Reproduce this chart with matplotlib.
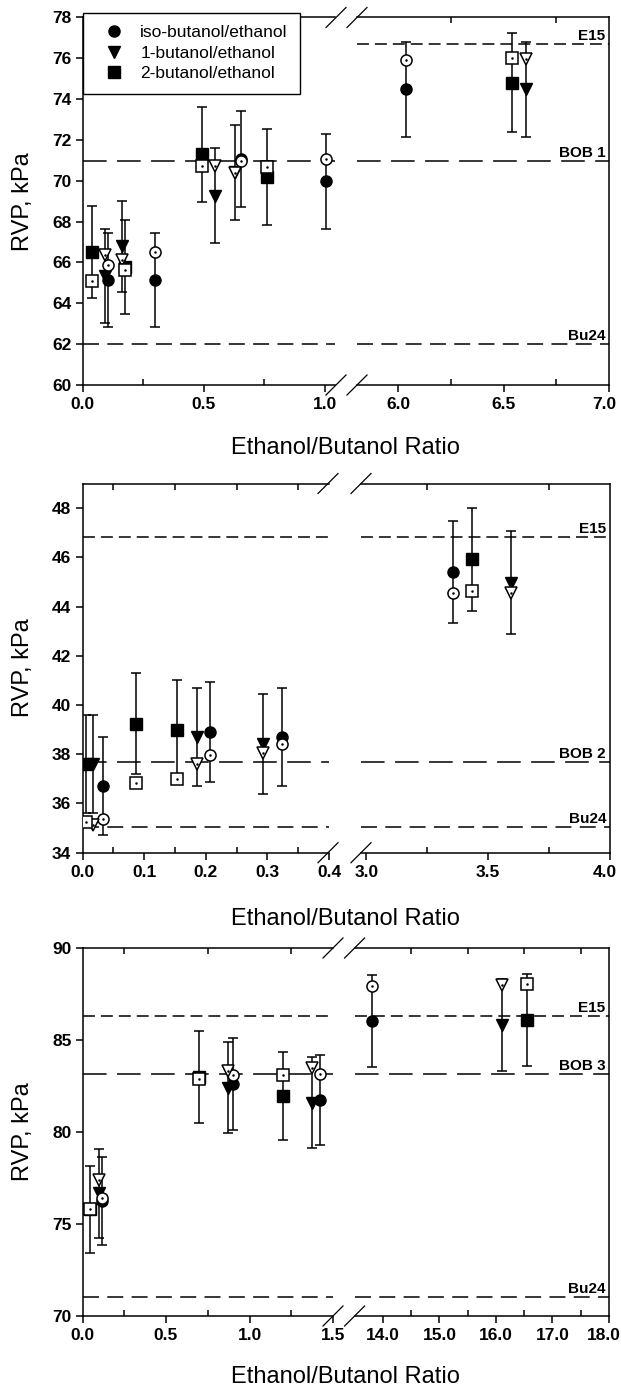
import matplotlib
matplotlib.use("Agg")
import matplotlib.pyplot as plt
from matplotlib.lines import Line2D
from matplotlib.transforms import ScaledTranslation

plt.rcParams['font.family'] = ['Liberation Sans', 'DejaVu Sans']
plt.rcParams['lines.scale_dashes'] = False

W, H = 621, 1387

# ---------------- data ----------------
series_names = ["iso-butanol/ethanol", "1-butanol/ethanol", "2-butanol/ethanol"]
series_markers = ["o", "v", "s"]

# Panel 1 : BOB 1 blends
p1_iso_ratio = [0.106, 0.299, 0.656, 1.004, 6.038]
p1_iso_rvp = [65.15, 65.15, 71.06, 69.98, 74.48]
p1_iso_err = [2.30, 2.30, 2.34, 2.33, 2.34]
p1_iso_pred = [65.89, 66.51, 70.96, 71.08, 75.90]

p1_1bu_ratio = [0.091, 0.164, 0.549, 0.630, 6.605]
p1_1bu_rvp = [65.35, 66.79, 69.28, 70.41, 74.48]
p1_1bu_err = [2.30, 2.22, 2.33, 2.32, 2.34]
p1_1bu_pred = [66.38, 66.14, 70.72, 70.36, 75.95]

p1_2bu_ratio = [0.040, 0.174, 0.494, 0.762, 6.540]
p1_2bu_rvp = [66.50, 65.80, 71.29, 70.19, 74.80]
p1_2bu_err = [2.26, 2.30, 2.32, 2.34, 2.42]
p1_2bu_pred = [65.11, 65.65, 70.72, 70.67, 76.04]

p1_ref_labels = ["E15", "BOB 1", "Bu24"]
p1_ref_values = [76.70, 70.95, 62.00]

# Panel 2 : BOB 2 blends
p2_iso_ratio = [0.034, 0.207, 0.323, 3.358]
p2_iso_rvp = [36.71, 38.90, 38.70, 45.40]
p2_iso_err = [2.00, 2.02, 2.00, 2.08]
p2_iso_pred = [35.35, 37.95, 38.40, 44.54]

p2_1bu_ratio = [0.017, 0.185, 0.293, 3.594]
p2_1bu_rvp = [37.60, 38.70, 38.43, 44.97]
p2_1bu_err = [2.00, 2.00, 2.03, 2.08]
p2_1bu_pred = [35.11, 37.61, 38.04, 44.54]

p2_2bu_ratio = [0.005, 0.087, 0.154, 3.435]
p2_2bu_rvp = [37.60, 39.24, 39.00, 45.92]
p2_2bu_err = [2.00, 2.05, 2.00, 2.08]
p2_2bu_pred = [35.25, 36.82, 37.00, 44.65]

p2_ref_labels = ["E15", "BOB 2", "Bu24"]
p2_ref_values = [46.82, 37.67, 35.05]

# Panel 3 : BOB 3 blends
p3_iso_ratio = [0.119, 0.900, 1.423, 13.80]
p3_iso_rvp = [76.24, 82.60, 81.75, 86.01]
p3_iso_err = [2.38, 2.50, 2.45, 2.50]
p3_iso_pred = [76.40, 83.11, 83.16, 87.95]

p3_1bu_ratio = [0.099, 0.869, 1.376, 16.10]
p3_1bu_rvp = [76.67, 82.40, 81.58, 85.82]
p3_1bu_err = [2.41, 2.47, 2.47, 2.49]
p3_1bu_pred = [77.40, 83.29, 83.47, 88.00]

p3_2bu_ratio = [0.045, 0.695, 1.202, 16.55]
p3_2bu_rvp = [75.79, 82.97, 81.94, 86.06]
p3_2bu_err = [2.38, 2.50, 2.40, 2.50]
p3_2bu_pred = [75.80, 82.89, 83.11, 88.04]

p3_ref_labels = ["E15", "BOB 3", "Bu24"]
p3_ref_values = [86.28, 83.16, 71.02]

# axis ticks
p1_left_ticks = [0.0, 0.5, 1.0]
p1_left_minor = [0.25, 0.75]
p1_right_ticks = [6.0, 6.5, 7.0]
p1_right_minor = [6.25, 6.75]
p1_yticks = [60, 62, 64, 66, 68, 70, 72, 74, 76, 78]

p2_left_ticks = [0.0, 0.1, 0.2, 0.3, 0.4]
p2_left_minor = [0.05, 0.15, 0.25, 0.35]
p2_right_ticks = [3.0, 3.5, 4.0]
p2_right_minor = [3.25, 3.75]
p2_yticks = [34, 36, 38, 40, 42, 44, 46, 48]

p3_left_ticks = [0.0, 0.5, 1.0, 1.5]
p3_left_minor = [0.25, 0.75, 1.25]
p3_right_ticks = [14.0, 15.0, 16.0, 17.0, 18.0]
p3_right_minor = [14.5, 15.5, 16.5, 17.5]
p3_yticks = [70, 75, 80, 85, 90]

# ---------------- layout & styling ----------------
ref_dashes = {"E15": (8.6, 4.3), "BOB": (17.0, 7.5), "Bu24": (11.5, 6.0)}

panels = [
    dict(series=[(p1_iso_ratio, p1_iso_rvp, p1_iso_err, p1_iso_pred),
                 (p1_1bu_ratio, p1_1bu_rvp, p1_1bu_err, p1_1bu_pred),
                 (p1_2bu_ratio, p1_2bu_rvp, p1_2bu_err, p1_2bu_pred)],
         refs=(p1_ref_labels, p1_ref_values), left_only_skip=["E15"],
         ticks=(p1_left_ticks, p1_left_minor, p1_right_ticks, p1_right_minor, p1_yticks),
         ylim=(60, 78), xlimL=(0.0, 1.043), xlimR=(5.803, 7.0),
         top=17.5, bottom=385.0, xL=(82.5, 335.0), xR=(357.0, 609.0),
         slash=(336.0, 357.0), xlabel_y=448.0),
    dict(series=[(p2_iso_ratio, p2_iso_rvp, p2_iso_err, p2_iso_pred),
                 (p2_1bu_ratio, p2_1bu_rvp, p2_1bu_err, p2_1bu_pred),
                 (p2_2bu_ratio, p2_2bu_rvp, p2_2bu_err, p2_2bu_pred)],
         refs=(p2_ref_labels, p2_ref_values), left_only_skip=[],
         ticks=(p2_left_ticks, p2_left_minor, p2_right_ticks, p2_right_minor, p2_yticks),
         ylim=(34, 49), xlimL=(0.0, 0.4), xlimR=(2.978, 4.0),
         top=483.5, bottom=852.7, xL=(82.5, 329.0), xR=(361.0, 609.5),
         slash=(328.0, 361.0), xlabel_y=919.0),
    dict(series=[(p3_iso_ratio, p3_iso_rvp, p3_iso_err, p3_iso_pred),
                 (p3_1bu_ratio, p3_1bu_rvp, p3_1bu_err, p3_1bu_pred),
                 (p3_2bu_ratio, p3_2bu_rvp, p3_2bu_err, p3_2bu_pred)],
         refs=(p3_ref_labels, p3_ref_values), left_only_skip=[],
         ticks=(p3_left_ticks, p3_left_minor, p3_right_ticks, p3_right_minor, p3_yticks),
         ylim=(70, 90), xlimL=(0.0, 1.5), xlimR=(13.5, 18.0),
         top=948.0, bottom=1316.0, xL=(82.5, 333.0), xR=(354.6, 609.0),
         slash=(333.0, 354.6), xlabel_y=1377.0),
]

fig = plt.figure(figsize=(W / 100, H / 100), dpi=100)
fig.patch.set_facecolor("white")


def px_rect(x0, x1, ytop, ybot):
    return [x0 / W, 1 - ybot / H, (x1 - x0) / W, (ybot - ytop) / H]


def slash(xc, yc, half=10.0):
    fig.add_artist(Line2D([(xc - half) / W, (xc + half) / W],
                          [1 - (yc + half) / H, 1 - (yc - half) / H],
                          transform=fig.transFigure, color="k", lw=0.9))


SP_LW = 1.1
first_axes = None
for pn in panels:
    axL = fig.add_axes(px_rect(pn["xL"][0], pn["xL"][1], pn["top"], pn["bottom"]))
    axR = fig.add_axes(px_rect(pn["xR"][0], pn["xR"][1], pn["top"], pn["bottom"]))
    if first_axes is None:
        first_axes = axL
    lt, lm, rt, rm, yt = pn["ticks"]
    axL.set_xlim(*pn["xlimL"])
    axR.set_xlim(*pn["xlimR"])
    for ax in (axL, axR):
        ax.set_ylim(*pn["ylim"])
        for s in ax.spines.values():
            s.set_linewidth(SP_LW)
    axL.spines["right"].set_visible(False)
    axR.spines["left"].set_visible(False)

    for ax, maj, mnr in ((axL, lt, lm), (axR, rt, rm)):
        ax.set_xticks(maj, labels=["%.1f" % v for v in maj],
                      fontsize=12.5, fontweight="bold")
        ax.set_xticks(mnr, minor=True)
        ax.tick_params(axis="x", which="major", direction="out", length=5,
                       width=SP_LW, top=False, bottom=True, pad=4)
        ax.tick_params(axis="x", which="minor", direction="in", length=4,
                       width=SP_LW, top=True, bottom=True)
    # keep the label at the right end of the axis inside the canvas
    last = axR.get_xticklabels()[-1]
    last.set_transform(last.get_transform()
                       + ScaledTranslation(-5 / 100, 0, fig.dpi_scale_trans))

    axL.set_yticks(yt, labels=["%d" % v for v in yt], fontsize=12.5, fontweight="bold")
    axL.tick_params(axis="y", direction="out", length=5, width=SP_LW, pad=3,
                    right=False)
    axR.set_yticks([])
    axR.tick_params(axis="y", left=False, right=False, labelleft=False)

    # reference RVP levels
    labels, values = pn["refs"]
    for lab, val in zip(labels, values):
        key = "BOB" if lab.startswith("BOB") else lab
        targets = (axR,) if lab in pn["left_only_skip"] else (axL, axR)
        for ax in targets:
            ax.axhline(val, color="k", lw=1.1, dashes=ref_dashes[key], zorder=1)
        axR.annotate(lab, xy=(1, val), xycoords=("axes fraction", "data"),
                     xytext=(-2.5, 3), textcoords="offset points",
                     ha="right", va="baseline", fontsize=11, fontweight="bold")

    # measured (filled, with error bars) and predicted (open) values
    split = pn["xlimL"][1]
    for ax, side in ((axL, "L"), (axR, "R")):
        for (ratio, rvp, err, pred), mk in zip(pn["series"], series_markers):
            idx = [i for i, r in enumerate(ratio) if (r <= split) == (side == "L")]
            if not idx:
                continue
            xs = [ratio[i] for i in idx]
            ax.errorbar(xs, [rvp[i] for i in idx], yerr=[err[i] for i in idx],
                        fmt="none", ecolor="k", elinewidth=1.1, capsize=3.6,
                        capthick=1.1, zorder=3)
            ax.plot(xs, [rvp[i] for i in idx], linestyle="none", marker=mk,
                    ms=8, mfc="k", mec="k", zorder=4)
        for (ratio, rvp, err, pred), mk in zip(pn["series"], series_markers):
            idx = [i for i, r in enumerate(ratio) if (r <= split) == (side == "L")]
            if not idx:
                continue
            xs = [ratio[i] for i in idx]
            ps = [pred[i] for i in idx]
            ax.plot(xs, ps, linestyle="none", marker=mk, ms=8, mfc="white",
                    mec="k", mew=1.1, zorder=5)
            ax.plot(xs, ps, linestyle="none", marker=".", ms=1.6, color="k",
                    zorder=6)

    # axis-break marks on top and bottom spines
    for xc in pn["slash"]:
        slash(xc, pn["top"])
        slash(xc, pn["bottom"])

    fig.text(345.8 / W, 1 - pn["xlabel_y"] / H, "Ethanol/Butanol Ratio",
             ha="center", va="center", fontsize=17)
    fig.text(23 / W, 1 - (pn["top"] + pn["bottom"]) / 2 / H, "RVP, kPa",
             rotation=90, ha="center", va="center", fontsize=17)

handles = [Line2D([], [], linestyle="none", marker=m, ms=8, mfc="k", mec="k")
           for m in series_markers]
leg = first_axes.legend(handles, series_names, loc="upper left",
                        bbox_to_anchor=(82.5 / W, 1 - 12.7 / H),
                        bbox_transform=fig.transFigure, fontsize=12.5,
                        frameon=True, fancybox=False, framealpha=1,
                        edgecolor="k", borderpad=0.72, handlelength=2.22,
                        handletextpad=0.38, labelspacing=0.3, borderaxespad=0)
leg.get_frame().set_linewidth(1.0)
leg.set_zorder(10)

fig.savefig("out.png", dpi=100)
